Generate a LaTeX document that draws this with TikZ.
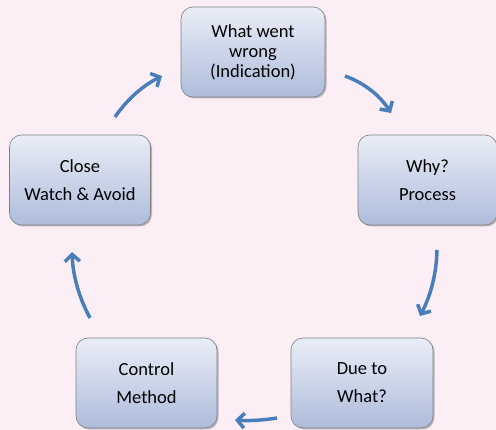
\documentclass[tikz,border=0pt]{standalone}
\usepackage{fontspec}
\setmainfont{Carlito}
\usetikzlibrary{arrows.meta,shadows}
\definecolor{bgpink}{HTML}{FBEFF5}
\definecolor{boxtop}{HTML}{E9EDF6}
\definecolor{boxbot}{HTML}{AEBCDB}
\definecolor{boxline}{HTML}{808080}
\definecolor{arrowblue}{HTML}{4A7EBB}
\tikzset{
  cyclebox/.style={draw=boxline, line width=0.6pt, rounded corners=12pt,
    top color=boxtop, bottom color=boxbot, inner sep=0pt,
    minimum width=141pt, minimum height=90pt, align=center,
    text=black,
    drop shadow={shadow xshift=1.5pt, shadow yshift=-1.5pt, opacity=0.25, fill=black}},
  tightlines/.style={font=\fontsize{18.5}{20}\selectfont},
  widelines/.style={font=\fontsize{18.5}{28}\selectfont},
  cyclearrow/.style={draw=arrowblue, line width=3.5pt,
    -{Straight Barb[length=7pt,width=15pt,line width=3.5pt]}}
}
\begin{document}
\begin{tikzpicture}[x=1pt,y=-1pt]
\fill[bgpink] (0,0) rectangle (496,430);
\useasboundingbox (0,0) rectangle (496,430);

\node[cyclebox,tightlines,minimum width=144pt] (top) at (253,52) {What went\\wrong\\(Indication)};
\node[cyclebox,widelines,minimum width=139pt] (right) at (427.5,180) {Why?\\Process};
\node[cyclebox,widelines] (left) at (80,180) {Close\\Watch \& Avoid};
\node[cyclebox,widelines] (ctrl) at (146.5,383) {Control\\Method};
\node[cyclebox,widelines,minimum width=142pt] (due) at (362,383) {Due to\\What?};

\coordinate (a1s) at (115,117); \coordinate (a1e) at (162,76);
\coordinate (a2s) at (345,76);  \coordinate (a2e) at (391,113);
\coordinate (a3s) at (437,250); \coordinate (a3e) at (420,316);
\coordinate (a4s) at (277,418); \coordinate (a4e) at (235,420);
\coordinate (a5s) at (90,318);  \coordinate (a5e) at (72,252);

\draw[cyclearrow] (a1s) .. controls (127.1,99.3) and (142.8,85.7) .. (a1e);
\draw[cyclearrow] (a2s) .. controls (364.5,83.1) and (379.9,95.5) .. (a2e);
\draw[cyclearrow] (a3s) .. controls (436.5,273.3) and (430.8,295.3) .. (a3e);
\draw[cyclearrow] (a4s) .. controls (263,420.3) and (249,421) .. (a4e);
\draw[cyclearrow] (a5s) .. controls (78.9,297.4) and (72.9,275.4) .. (a5e);
\end{tikzpicture}
\end{document}
